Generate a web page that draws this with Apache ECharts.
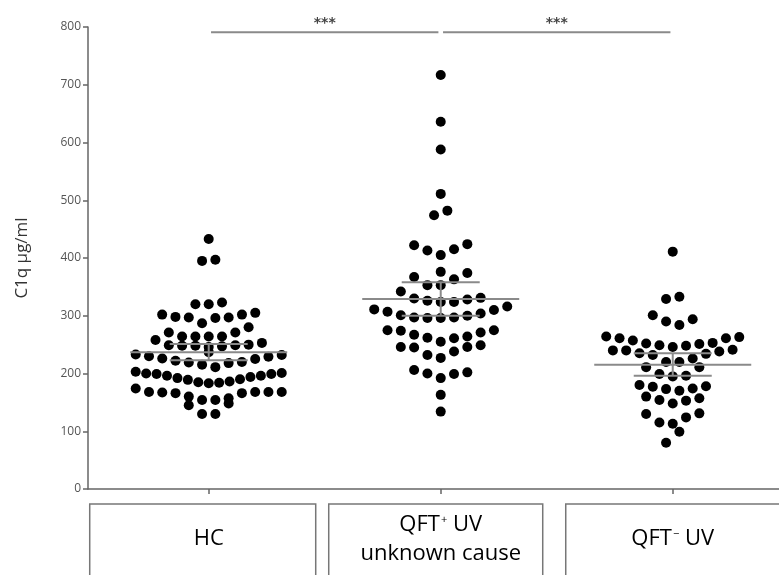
<!DOCTYPE html>
<html><head><meta charset="utf-8">
<script src="https://cdn.jsdelivr.net/npm/echarts@6/dist/echarts.min.js"></script>
<style>html,body{margin:0;padding:0;background:#fff}#c{width:779px;height:575px}</style>
</head><body><div id="c"></div>
<script>
// ---- data ----
const categories = ['HC', 'QFT\u207A UV\nunknown cause', 'QFT\u207B UV'];
const yTickMax = 800;
const yTickStep = 100;
// dot values, one inner array per visual row (left to right)
const hcRows = [
  [433],
  [395, 397],
  [320, 320, 323],
  [302, 298, 297, 287, 296, 297, 302, 305],
  [258, 271, 264, 264, 264, 264, 271, 280, 253],
  [249, 248, 248, 246, 247, 249, 250],
  [237],
  [233, 230, 226, 222, 219, 215, 211, 218, 220, 225, 229, 232],
  [203, 200, 199, 196, 192, 189, 185, 183, 184, 186, 190, 194, 196, 199, 201],
  [174, 168, 167, 166, 160, 154, 154, 157, 166, 168, 168, 168],
  [145, 130, 130, 148]
];
const qftPosRows = [
  [717], [636], [588], [511],
  [474, 482],
  [422, 413, 405, 415, 424],
  [367, 353, 376, 363, 374],
  [353],
  [342, 330, 326, 324, 324, 328, 331],
  [311, 307, 301, 297, 296, 296, 297, 300, 304, 310, 316],
  [275, 274, 267, 262, 255, 261, 264, 271, 275],
  [246, 245, 232, 227, 238, 246, 249],
  [206, 200, 192, 199, 202],
  [163], [134]
];
const qftNegRows = [
  [411],
  [329, 333],
  [301, 290, 284, 294],
  [264, 261, 257, 252, 249, 246, 248, 251, 253, 261, 263],
  [240, 240, 235, 232, 220, 220, 226, 234, 238, 241],
  [211, 199, 195, 196, 211],
  [180, 177, 173, 170, 174, 178],
  [160, 154, 148, 153, 157],
  [130, 115, 113, 124, 131],
  [80, 99]
];
const groupMeans = [237, 329, 215];
const groupCILow = [223, 300, 196];
const groupCIHigh = [251, 358, 235];
const sigPairs = [[0, 1], [1, 2]];
const sigLabels = ['***', '***'];
const sigLevel = 791;

// ---- styling / layout constants ----
const PX_PER_UNIT = 232;           // pixel width of one category step
const DOT_STEP = 13.3 / PX_PER_UNIT;
const MAX_ROW_WIDTH = 146 / PX_PER_UNIT;
const LONG_HALF = 78.5 / PX_PER_UNIT;
const SHORT_HALF = 39 / PX_PER_UNIT;
const boxSpan = [[-119, 107], [-112, 102], [-107, 120]];

const allRows = [hcRows, qftPosRows, qftNegRows];
const dots = [];
allRows.forEach((rows, g) => {
  rows.forEach(row => {
    const n = row.length;
    const step = n > 1 ? Math.min(DOT_STEP, MAX_ROW_WIDTH / (n - 1)) : 0;
    row.forEach((v, i) => dots.push([g + 1 + (i - (n - 1) / 2) * step, v]));
  });
});
const statData = categories.map((c, g) => [g + 1, groupMeans[g], groupCILow[g], groupCIHigh[g]]);
const sigData = sigPairs.map((p, k) => [p[0] + 1, p[1] + 1, sigLevel, sigLabels[k]]);

// rich-text version of the category names (superscript sign)
function richName(name) {
  return name.split('\n').map(line => {
    const m = line.match(/^(.*?)([\u207A\u207B])(.*)$/);
    if (!m) return '{n|' + line + '}';
    const sign = m[2] === '\u207A' ? '+' : '\u2212';
    return '{n|' + m[1] + '}{s|' + sign + '}{n|' + m[3] + '}';
  }).join('\n');
}

const chart = echarts.init(document.getElementById('c'), null, {renderer: 'canvas'});
const axisColor = '#666';
chart.setOption({
  animation: false,
  backgroundColor: '#fff',
  grid: {left: 88, right: 0, top: 27, bottom: 86, containLabel: false},
  xAxis: {
    type: 'value', min: 0.4797, max: 3.458,
    axisLine: {show: true, lineStyle: {color: axisColor, width: 1.5}},
    axisTick: {show: true, customValues: [1, 2, 3], length: 5, lineStyle: {color: axisColor, width: 1.5}},
    axisLabel: {show: false},
    splitLine: {show: false}
  },
  yAxis: {
    type: 'value', min: 0, max: yTickMax, interval: yTickStep,
    name: 'C1q \u03BCg/ml', nameLocation: 'middle', nameGap: 57,
    nameTextStyle: {fontFamily: 'Open Sans', fontSize: 17, color: '#333'},
    axisLine: {show: true, lineStyle: {color: axisColor, width: 1.5}},
    axisTick: {show: true, length: 5, lineStyle: {color: axisColor, width: 1.5}},
    axisLabel: {fontFamily: 'Open Sans', fontSize: 12, color: '#555', margin: 7},
    splitLine: {show: false}
  },
  series: [
    {
      type: 'scatter', data: dots, symbol: 'circle', symbolSize: 10,
      itemStyle: {color: '#000', opacity: 1}, z: 2, silent: true
    },
    {
      type: 'custom', data: statData, z: 3, silent: true,
      encode: {x: 0, y: 1},
      renderItem: function (params, api) {
        const x = api.value(0), m = api.value(1), lo = api.value(2), hi = api.value(3);
        const st = {stroke: '#8a8a8a', lineWidth: 2};
        const a = api.coord([x - LONG_HALF, m]), b = api.coord([x + LONG_HALF, m]);
        const c = api.coord([x - SHORT_HALF, hi]), d = api.coord([x + SHORT_HALF, hi]);
        const e = api.coord([x - SHORT_HALF, lo]), f = api.coord([x + SHORT_HALF, lo]);
        const vt = api.coord([x, hi]), vb = api.coord([x, lo]);
        return {type: 'group', children: [
          {type: 'line', shape: {x1: a[0], y1: a[1], x2: b[0], y2: b[1]}, style: st},
          {type: 'line', shape: {x1: c[0], y1: c[1], x2: d[0], y2: d[1]}, style: st},
          {type: 'line', shape: {x1: e[0], y1: e[1], x2: f[0], y2: f[1]}, style: st},
          {type: 'line', shape: {x1: vt[0], y1: vt[1], x2: vb[0], y2: vb[1]}, style: st}
        ]};
      }
    },
    {
      type: 'custom', data: sigData, z: 3, silent: true, clip: false,
      encode: {x: [0, 1], y: 2},
      renderItem: function (params, api) {
        const x1 = api.value(0), x2 = api.value(1), y = api.value(2);
        const p1 = api.coord([x1 + 0.01, y]), p2 = api.coord([x2 - 0.01, y]);
        const pm = api.coord([(x1 + x2) / 2, y]);
        return {type: 'group', children: [
          {type: 'line', shape: {x1: p1[0], y1: p1[1], x2: p2[0], y2: p2[1]}, style: {stroke: '#8a8a8a', lineWidth: 2}},
          {type: 'text', style: {text: sigData[params.dataIndex][3], x: pm[0], y: pm[1] - 2,
            align: 'center', verticalAlign: 'bottom', font: 'bold 14px "DejaVu Sans"', fill: '#444'}}
        ]};
      }
    }
  ]
});

// category boxes beneath the x axis, positioned through the axis scale
const graphics = [];
categories.forEach((name, g) => {
  const cx = chart.convertToPixel({xAxisIndex: 0}, g + 1);
  const span = boxSpan[g];
  graphics.push({
    type: 'rect', shape: {x: cx + span[0], y: 504, width: span[1] - span[0], height: 100},
    style: {fill: '#fff', stroke: '#777', lineWidth: 1.5}, silent: true
  });
  graphics.push({
    type: 'text', x: cx, y: 539,
    style: {
      text: richName(name), align: 'center', verticalAlign: 'middle',
      rich: {
        n: {fontFamily: 'Open Sans', fontSize: 22, color: '#333', lineHeight: 29},
        s: {fontFamily: 'Open Sans', fontSize: 11, color: '#333', lineHeight: 29, verticalAlign: 'top', padding: [4, 0, 0, 1]}
      }
    },
    silent: true
  });
});
chart.setOption({graphic: graphics});
</script>
</body></html>
